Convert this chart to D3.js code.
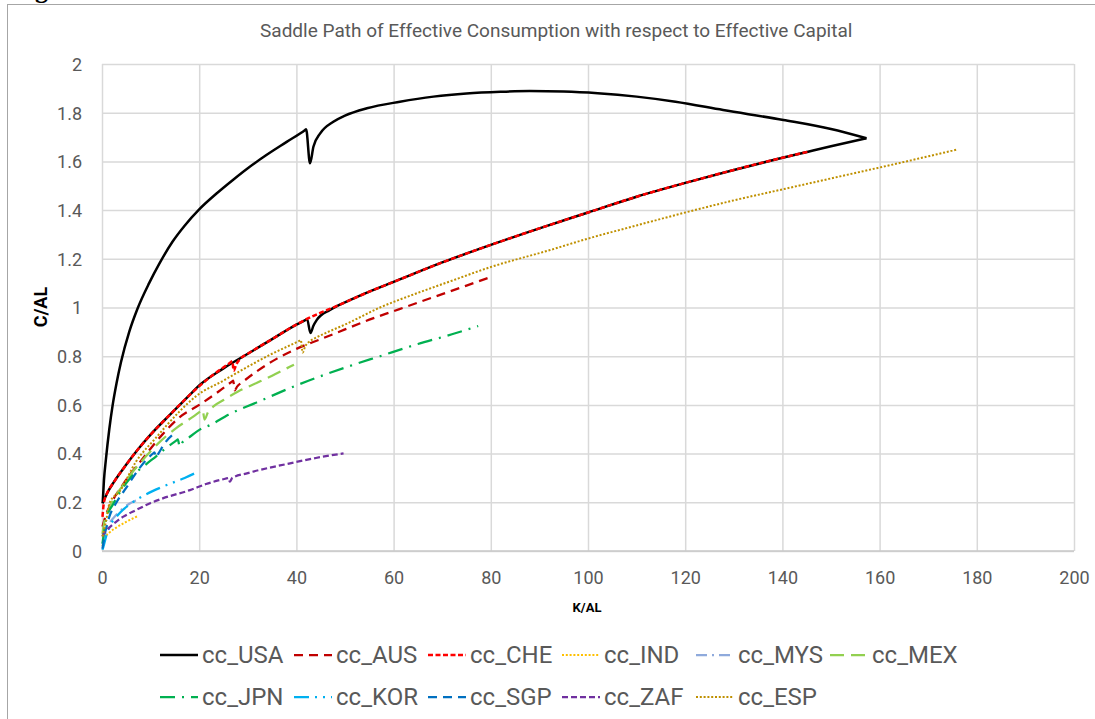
<!DOCTYPE html>
<html lang="en">
<head>
<meta charset="utf-8">
<title>Saddle Path</title>
<script src="https://d3js.org/d3.v7.min.js"></script>
<style>
  body { margin: 0; background: #fff; overflow: hidden; }
  text { font-family: Roboto, "Open Sans", "Liberation Sans", sans-serif; }
</style>
</head>
<body>
<div id="chart"></div>
<script>
// values, [K/AL, C/AL]
const usaLower = [[0.14,0.196],[1,0.235],[2.5,0.285],[5,0.355],[7.5,0.42],[10,0.478],[14,0.56],[18,0.64],[20,0.68],[25,0.75],[30,0.81],[35,0.87],[40,0.93],[42,0.95],[42.2,0.952],[42.9,0.895],[43.5,0.925],[44.2,0.949],[46.9,0.99],[51,1.03],[55,1.065],[60,1.105],[70,1.185],[80,1.257],[90,1.325],[100,1.39],[110,1.455],[121,1.517],[130,1.565],[140,1.615],[145.3,1.64],[150,1.662],[157.3,1.695]];
const usaUpper = [[0.14,0.196],[0.4,0.29],[0.8,0.375],[1.5,0.5],[2.2,0.6],[3,0.69],[3.9,0.775],[5.6,0.9],[7.3,0.995],[9.7,1.1],[11.8,1.18],[14.5,1.27],[17,1.336],[20,1.403],[23.5,1.467],[27,1.525],[30,1.572],[33.9,1.627],[38,1.68],[41.8,1.729],[42,1.732],[42.8,1.592],[43.5,1.66],[44.9,1.715],[47.6,1.763],[50,1.788],[54.5,1.818],[61.3,1.845],[68.2,1.866],[75,1.879],[82,1.886],[88,1.889],[95,1.887],[102,1.88],[110,1.866],[118,1.845],[127.8,1.811],[140.2,1.77],[150,1.733],[157.3,1.695]];
const aus = [[0.1,0.1],[0.8,0.148],[2,0.2],[4.2,0.27],[8.4,0.38],[12.5,0.48],[16,0.55],[20,0.6],[24,0.655],[26.8,0.697],[27,0.7],[27.3,0.66],[27.8,0.675],[29,0.695],[32,0.74],[36,0.79],[40,0.83],[45,0.87],[50,0.91],[55,0.95],[60,0.985],[65,1.02],[70,1.055],[75,1.09],[79.4,1.121]];
const che = [[0.1,0.14],[0.4,0.2],[1,0.235],[2.5,0.285],[5,0.355],[7.5,0.42],[10,0.478],[14,0.56],[18,0.64],[22,0.71],[26.6,0.777],[26.8,0.78],[27.1,0.74],[27.6,0.765],[28.5,0.79],[30,0.81],[35,0.87],[40,0.93],[44,0.97],[47,0.995],[51,1.03],[55,1.065],[60,1.105],[70,1.185],[80,1.257],[90,1.325],[100,1.39],[110,1.455],[121,1.517],[130,1.565],[140,1.615],[145.3,1.64]];
const ind = [[0.1,0.02],[0.5,0.05],[1.5,0.075],[3,0.097],[5,0.12],[7.2,0.142]];
const mys = [[0.1,0.03],[1,0.09],[3,0.15],[5.3,0.19],[7.7,0.213]];
const mex = [[0.1,0.07],[0.3,0.1],[1.5,0.175],[4.3,0.27],[9.1,0.39],[12,0.45],[15.2,0.504],[19,0.555],[20.5,0.577],[20.7,0.58],[21.1,0.54],[21.8,0.57],[23,0.595],[25,0.62],[28,0.655],[31.8,0.69],[35,0.72],[38,0.75],[39.5,0.765]];
const jpn = [[0.1,0.03],[0.3,0.06],[1,0.14],[2.2,0.189],[5.6,0.295],[9,0.355],[11.2,0.39],[13,0.42],[15.4,0.455],[15.6,0.458],[16,0.428],[16.5,0.445],[17.5,0.46],[20.7,0.505],[22,0.515],[26,0.56],[31.8,0.61],[40,0.68],[51,0.76],[57.2,0.8],[65,0.85],[72,0.89],[77.4,0.924]];
const kor = [[0.1,0.005],[0.3,0.018],[1,0.07],[1.6,0.1],[3.6,0.155],[6,0.195],[9,0.232],[12,0.26],[14.5,0.28],[17,0.3],[19.8,0.326]];
const sgp = [[0.1,0.01],[0.5,0.06],[1.5,0.14],[3,0.2],[4.9,0.257],[7.7,0.34],[10.6,0.402],[10.8,0.405],[11.1,0.385],[11.6,0.4],[13,0.445],[14.9,0.483]];
const zaf = [[0.1,0.06],[0.3,0.07],[1,0.086],[2.9,0.12],[4.4,0.141],[7,0.168],[9.9,0.196],[12.5,0.216],[18.1,0.25],[21.4,0.275],[25.8,0.299],[26,0.3],[26.3,0.285],[26.8,0.3],[30,0.32],[38.7,0.36],[44,0.382],[49.7,0.401]];
const esp = [[0.1,0.06],[0.8,0.12],[1.6,0.2],[3.6,0.244],[7,0.367],[11.1,0.465],[15.9,0.572],[19.3,0.635],[25,0.7],[30,0.757],[35,0.81],[40.7,0.864],[40.9,0.866],[41.3,0.815],[41.8,0.84],[42.5,0.857],[44,0.876],[46,0.895],[50,0.93],[57.2,1.0],[65,1.06],[72,1.11],[79.8,1.165],[92.2,1.236],[100,1.283],[110,1.337],[120,1.39],[130,1.44],[140,1.485],[150,1.53],[164.2,1.594],[175.8,1.648]];

const seriesNames = ["cc_USA","cc_AUS","cc_CHE","cc_IND","cc_MYS","cc_MEX","cc_JPN","cc_KOR","cc_SGP","cc_ZAF","cc_ESP"];
// USA is a loop: lower and upper branch joined at both ends
const seriesData = [[usaLower, usaUpper], [aus], [che], [ind], [mys], [mex], [jpn], [kor], [sgp], [zaf], [esp]];

const xTicks = [0,20,40,60,80,100,120,140,160,180,200];
const yTicks = [0,0.2,0.4,0.6,0.8,1,1.2,1.4,1.6,1.8,2];

const chartTitle = "Saddle Path of Effective Consumption with respect to Effective Capital";

// line styles per series
const styles = {
  "cc_USA": {color: "#000000", dash: null, w: 2.5},
  "cc_AUS": {color: "#C00000", dash: "9,6", w: 2.25},
  "cc_CHE": {color: "#FF0000", dash: "5,2.5", w: 2.5},
  "cc_IND": {color: "#FFC000", dash: "2,1.8", w: 2},
  "cc_MYS": {color: "#8FAADC", dash: "11,5,2,5", w: 2.25},
  "cc_MEX": {color: "#92D050", dash: "14,7", w: 2.25},
  "cc_JPN": {color: "#00B050", dash: "15,7,2,7", w: 2.25},
  "cc_KOR": {color: "#00B0F0", dash: "15,6,2,6,2,6", w: 2.25},
  "cc_SGP": {color: "#0070C0", dash: "9,6", w: 2.25},
  "cc_ZAF": {color: "#7030A0", dash: "6,3", w: 2.25},
  "cc_ESP": {color: "#BF9000", dash: "2,1.8", w: 2}
};

const W = 1095, H = 719;
const plot = {left: 102, right: 1074, top: 64, bottom: 551};

const svg = d3.select("#chart").append("svg")
  .attr("width", W).attr("height", H);

svg.append("rect").attr("width", W).attr("height", H).attr("fill", "#fff");

// cut-off caption above the chart box
svg.append("text")
  .attr("x", 12).attr("y", -2)
  .style("font-family", "'Liberation Serif', 'DejaVu Serif', serif")
  .style("font-weight", "bold")
  .style("font-size", "26px")
  .text("Figure");

// chart border
svg.append("rect")
  .attr("x", 7.5).attr("y", 4.5)
  .attr("width", 1300).attr("height", 900)
  .attr("fill", "none").attr("stroke", "#a6a6a6").attr("stroke-width", 1);

const x = d3.scaleLinear().domain([0, 200]).range([plot.left, plot.right]);
const y = d3.scaleLinear().domain([0, 2]).range([plot.bottom, plot.top]);

// gridlines + tick labels
const yAxis = svg.append("g")
  .attr("transform", `translate(${plot.left},0)`)
  .call(d3.axisLeft(y).tickValues(yTicks).tickFormat(d3.format("~g"))
    .tickSize(-(plot.right - plot.left)).tickPadding(20));
const xAxis = svg.append("g")
  .attr("transform", `translate(0,${plot.bottom})`)
  .call(d3.axisBottom(x).tickValues(xTicks).tickFormat(d3.format("d"))
    .tickSize(-(plot.bottom - plot.top)).tickPadding(20));

[xAxis, yAxis].forEach(g => {
  g.select(".domain").remove();
  g.selectAll(".tick line").attr("stroke", "#d9d9d9").attr("stroke-width", 1.5);
  g.selectAll(".tick text")
    .attr("fill", "#595959")
    .style("font-size", "18px");
});
yAxis.selectAll(".tick text").attr("dy", "0.35em");

// bottom axis line
svg.append("line")
  .attr("x1", plot.left).attr("x2", plot.right)
  .attr("y1", plot.bottom).attr("y2", plot.bottom)
  .attr("stroke", "#c8c8c8").attr("stroke-width", 1.5);

// title, fitted to the width it has in the figure
const title = svg.append("text")
  .attr("x", 260).attr("y", 30)
  .attr("dominant-baseline", "central")
  .attr("fill", "#595959")
  .style("font-size", "18px")
  .text(chartTitle);
const tw = title.node().getComputedTextLength();
title.style("font-size", (18 * 593 / tw) + "px");

// axis titles
svg.append("text")
  .attr("transform", "translate(40,307)rotate(-90)")
  .attr("text-anchor", "middle")
  .attr("dominant-baseline", "central")
  .style("font-weight", "bold")
  .style("font-size", "18px")
  .text("C/AL");

svg.append("text")
  .attr("x", 587).attr("y", 607)
  .attr("text-anchor", "middle")
  .attr("dominant-baseline", "central")
  .style("font-weight", "bold")
  .style("font-size", "13px")
  .text("K/AL");

// series lines
const line = d3.line()
  .x(d => x(d[0]))
  .y(d => y(d[1]))
  .curve(d3.curveMonotoneX);

svg.append("clipPath").attr("id", "plotclip")
  .append("rect")
  .attr("x", plot.left - 2).attr("y", plot.top - 2)
  .attr("width", plot.right - plot.left + 4).attr("height", plot.bottom - plot.top + 2);

const lines = svg.append("g").attr("clip-path", "url(#plotclip)");
seriesNames.forEach((name, i) => {
  const s = styles[name];
  seriesData[i].forEach(part => {
    lines.append("path")
      .datum(part)
      .attr("d", line)
      .attr("fill", "none")
      .attr("stroke", s.color)
      .attr("stroke-width", s.w)
      .attr("stroke-dasharray", s.dash)
      .attr("stroke-linejoin", "round");
  });
});

// legend: two rows
const legend = svg.append("g");
seriesNames.forEach((name, i) => {
  const s = styles[name];
  const row = i < 6 ? 0 : 1;
  const col = row === 0 ? i : i - 6;
  const lx = 160 + col * 134;
  const ly = row === 0 ? 655 : 697;
  legend.append("line")
    .attr("x1", lx).attr("x2", lx + 38)
    .attr("y1", ly).attr("y2", ly)
    .attr("stroke", s.color)
    .attr("stroke-width", s.w)
    .attr("stroke-dasharray", s.dash);
  legend.append("text")
    .attr("x", lx + 42).attr("y", ly)
    .attr("dominant-baseline", "central")
    .attr("fill", "#595959")
    .style("font-size", "24px")
    .text(name);
});
</script>
</body>
</html>
